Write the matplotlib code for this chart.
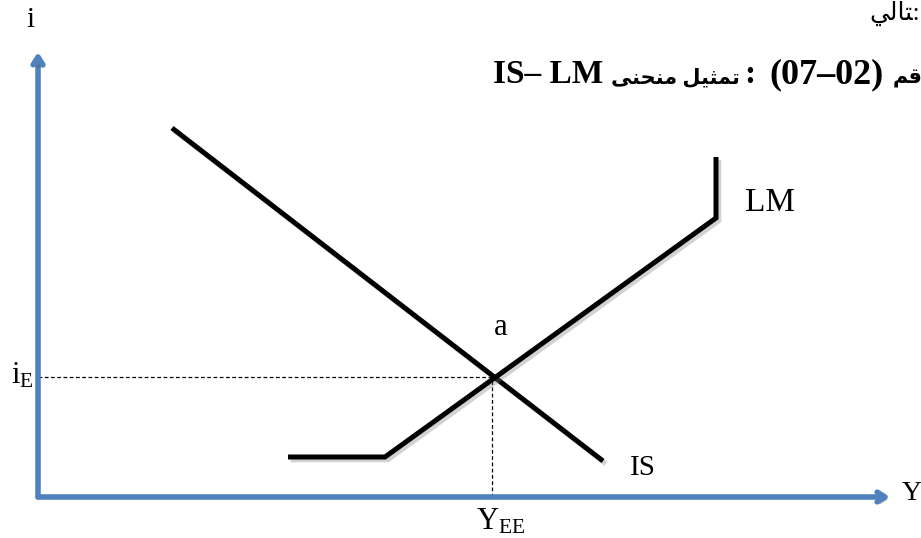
import matplotlib.pyplot as plt
import matplotlib.patheffects as pe

plt.rcParams['font.family'] = ['Liberation Serif', 'DejaVu Sans']
plt.rcParams['mathtext.fontset'] = 'custom'
plt.rcParams['mathtext.rm'] = 'Liberation Serif'
plt.rcParams['mathtext.it'] = 'Liberation Serif:italic'

# curve points (origin = axis corner, y upward)
is_x = [134, 565]
is_y = [369, 36]
lm_x = [250, 347, 678, 678]
lm_y = [40, 40, 279, 340]
y_eq = 454
i_eq = 120
x_axis_end = 852
y_axis_end = 445

# Arabic words stored in display order (presentation forms)
w_tamthil = "\uFEDE\uFEF4\uFE9C\uFEE4\uFE97"
w_munhana = "\uFEF0\uFEE8\uFEA4\uFEE8\uFEE3"
w_raqm = "\uFEE2\uFED7\uFEAD"
w_tali = "\uFEF2\uFEDF\uFE8E\uFE98"

blue = '#4F81BD'
shadow = [pe.SimpleLineShadow(offset=(2, -2), shadow_color='gray', alpha=0.35), pe.Normal()]

fig = plt.figure(figsize=(9.21, 5.38), dpi=100)
ax = fig.add_axes([0, 0, 1, 1])
ax.set_xlim(-38, 883)
ax.set_ylim(-41, 497)
ax.axis('off')

# axes arrows
for end in [(x_axis_end, 0), (0, y_axis_end)]:
    ax.annotate('', xy=end, xytext=(0, 0),
                arrowprops=dict(arrowstyle='->, head_length=0.55, head_width=0.35',
                                color=blue, lw=4, shrinkA=0, shrinkB=0,
                                path_effects=[pe.withSimplePatchShadow(offset=(2, -2), alpha=0.3)]))

# guide lines to the equilibrium
ax.plot([0, y_eq], [i_eq, i_eq], color='black', lw=0.9, dashes=(3, 2))
ax.plot([y_eq, y_eq], [0, i_eq], color='black', lw=0.9, dashes=(3, 2))

ax.plot(is_x, is_y, color='black', lw=3.6, solid_capstyle='butt', path_effects=shadow)
ax.plot(lm_x, lm_y, color='black', lw=3.6, solid_capstyle='butt', solid_joinstyle='miter',
        path_effects=shadow)

ax.text(-8, 477, 'i', fontsize=21, ha='center', va='center')
ax.text(864, 3, 'Y', fontsize=20, ha='left', va='center')
ax.text(-4, 114, r'$\mathrm{i}_{\mathrm{E}}$', fontsize=22, ha='right', va='baseline')
ax.text(y_eq + 9, -33, r'$\mathrm{Y}_{\mathrm{EE}}$', fontsize=22, ha='center', va='baseline')
ax.text(y_eq + 9, 162, 'a', fontsize=22, ha='center', va='baseline')
ax.text(707, 286, 'LM', fontsize=24, ha='left', va='baseline')
ax.text(592, 22, 'IS', fontsize=21, ha='left', va='baseline')

# figure caption, cut by the right edge as in the page scan
ax.text(455, 414, 'IS\u2013 LM', fontsize=24, fontweight='bold', ha='left', va='baseline')
ax.text(573, 414, w_munhana + ' ' + w_tamthil, fontsize=15, fontweight='bold',
        ha='left', va='baseline')
ax.text(712, 414, ':', fontsize=24, fontweight='bold', ha='center', va='baseline')
ax.text(731, 414, '(07\u201302)', fontsize=26, fontweight='bold', ha='left', va='baseline')
ax.text(855, 414, w_raqm, fontsize=15, fontweight='bold', ha='left', va='baseline')
ax.text(882, 477, w_tali + ':', fontsize=18, ha='right', va='baseline')

fig.savefig('out.png', dpi=100)
